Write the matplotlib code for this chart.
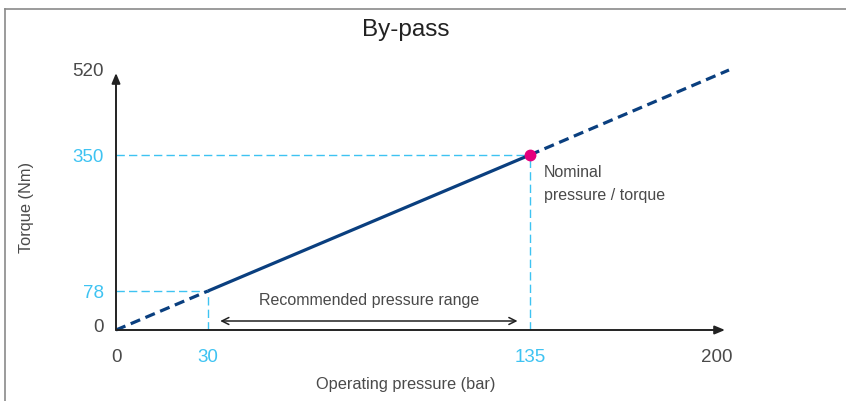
import matplotlib
matplotlib.use("Agg")
import matplotlib.pyplot as plt
from matplotlib.lines import Line2D
from matplotlib.transforms import ScaledTranslation

plt.rcParams['font.family'] = ['Liberation Sans', 'DejaVu Sans']

# ---- data ----
pressure = [0, 30, 135, 200]          # bar
torque = [0, 78, 350, 520]            # Nm
xtick_vals = [0, 30, 135, 200]
xtick_labels = ["0", "30", "135", "200"]
ytick_vals = [0, 78, 350, 520]
ytick_labels = ["0", "78", "350", "520"]
range_start, range_end = 34, 131      # recommended range arrow ends
nominal_p, nominal_t = 135, 350

NAVY = "#0a3f7f"
CYAN = "#3ec3f2"
PINK = "#e5007d"
GRAY = "#4a4a4a"

W, H = 846, 401
fig = plt.figure(figsize=(W / 100, H / 100), dpi=100)
ax = fig.add_axes([116 / W, (H - 330) / H, 613 / W, 260 / H])
ax.set_xlim(0, 200)
ax.set_ylim(0, 520)
for s in ax.spines.values():
    s.set_visible(False)

# axis arrows
ax.annotate("", xy=(198.7, 0), xytext=(0, 0),
            arrowprops=dict(arrowstyle="-|>,head_length=0.6,head_width=0.25", color="#222222", lw=1.4,
                            shrinkA=0, shrinkB=0), annotation_clip=False)
ax.annotate("", xy=(0, 514), xytext=(0, 0),
            arrowprops=dict(arrowstyle="-|>,head_length=0.6,head_width=0.25", color="#222222", lw=1.4,
                            shrinkA=0, shrinkB=0), annotation_clip=False)

# guide lines
guide = dict(color=CYAN, lw=1.0, dashes=(6, 3))
ax.plot([0, pressure[2]], [torque[2], torque[2]], **guide)
ax.plot([pressure[2], pressure[2]], [0, torque[2]], **guide)
ax.plot([0, pressure[1]], [torque[1], torque[1]], **guide)
ax.plot([pressure[1], pressure[1]], [0, torque[1]], **guide)

# main line
ax.plot(pressure[0:2], torque[0:2], color=NAVY, lw=2.3, dashes=(3.2, 1.8), solid_capstyle="butt", clip_on=False)
ax.plot(pressure[1:3], torque[1:3], color=NAVY, lw=2.3, solid_capstyle="butt", clip_on=False)
ax.plot(pressure[2:4], torque[2:4], color=NAVY, lw=2.3, dashes=(3.2, 1.8), clip_on=False)
ax.plot([nominal_p], [nominal_t], "o", color=PINK, ms=7.5, zorder=5)

# recommended range
ax.annotate("", xy=(range_end, 18), xytext=(range_start, 18),
            arrowprops=dict(arrowstyle="<->,head_length=0.5,head_width=0.25", color="#222222", lw=1.1,
                            shrinkA=0, shrinkB=0))
ax.text((range_start + range_end) / 2, 60, "Recommended pressure range", ha="center", va="center",
        fontsize=11.5, color=GRAY)
ax.text(139.5, 330, "Nominal\npressure / torque", ha="left", va="top", fontsize=11.5,
        color=GRAY, linespacing=1.65)

# ticks
ax.set_xticks(xtick_vals)
ax.set_xticklabels(xtick_labels)
ax.set_yticks(ytick_vals)
ax.set_yticklabels(ytick_labels)
ax.tick_params(length=0, labelsize=13.5, colors=GRAY)
ax.tick_params(axis="x", pad=14)
ax.tick_params(axis="y", pad=8.5)
for lbl in ax.get_xticklabels():
    if lbl.get_text() in ("30", "135"):
        lbl.set_color(CYAN)
for lbl in ax.get_yticklabels():
    if lbl.get_text() in ("78", "350"):
        lbl.set_color(CYAN)

# small visual nudges of two labels as in the reference
xt = ax.xaxis.get_major_ticks()[-1].label1
xt.set_transform(xt.get_transform() + ScaledTranslation(-0.12, 0, fig.dpi_scale_trans))
yt = ax.yaxis.get_major_ticks()[0].label1
yt.set_transform(yt.get_transform() + ScaledTranslation(0, 0.05, fig.dpi_scale_trans))

fig.text(406 / W, 1 - 30 / H, "By-pass", ha="center", va="center", fontsize=17.5, color="#222222")
fig.text(406 / W, 1 - 384 / H, "Operating pressure (bar)", ha="center", va="center", fontsize=11.8, color=GRAY)
fig.text(26 / W, 1 - 207 / H, "Torque (Nm)", ha="center", va="center", rotation=90, fontsize=11.8, color=GRAY)

# frame
fig.add_artist(Line2D([4.5 / W, 4.5 / W], [0, 1 - 9 / H], transform=fig.transFigure, color="#8a8a8a", lw=1.2))
fig.add_artist(Line2D([4.5 / W, 1], [1 - 9 / H, 1 - 9 / H], transform=fig.transFigure, color="#8a8a8a", lw=1.2))

fig.savefig("out.png", dpi=100)
